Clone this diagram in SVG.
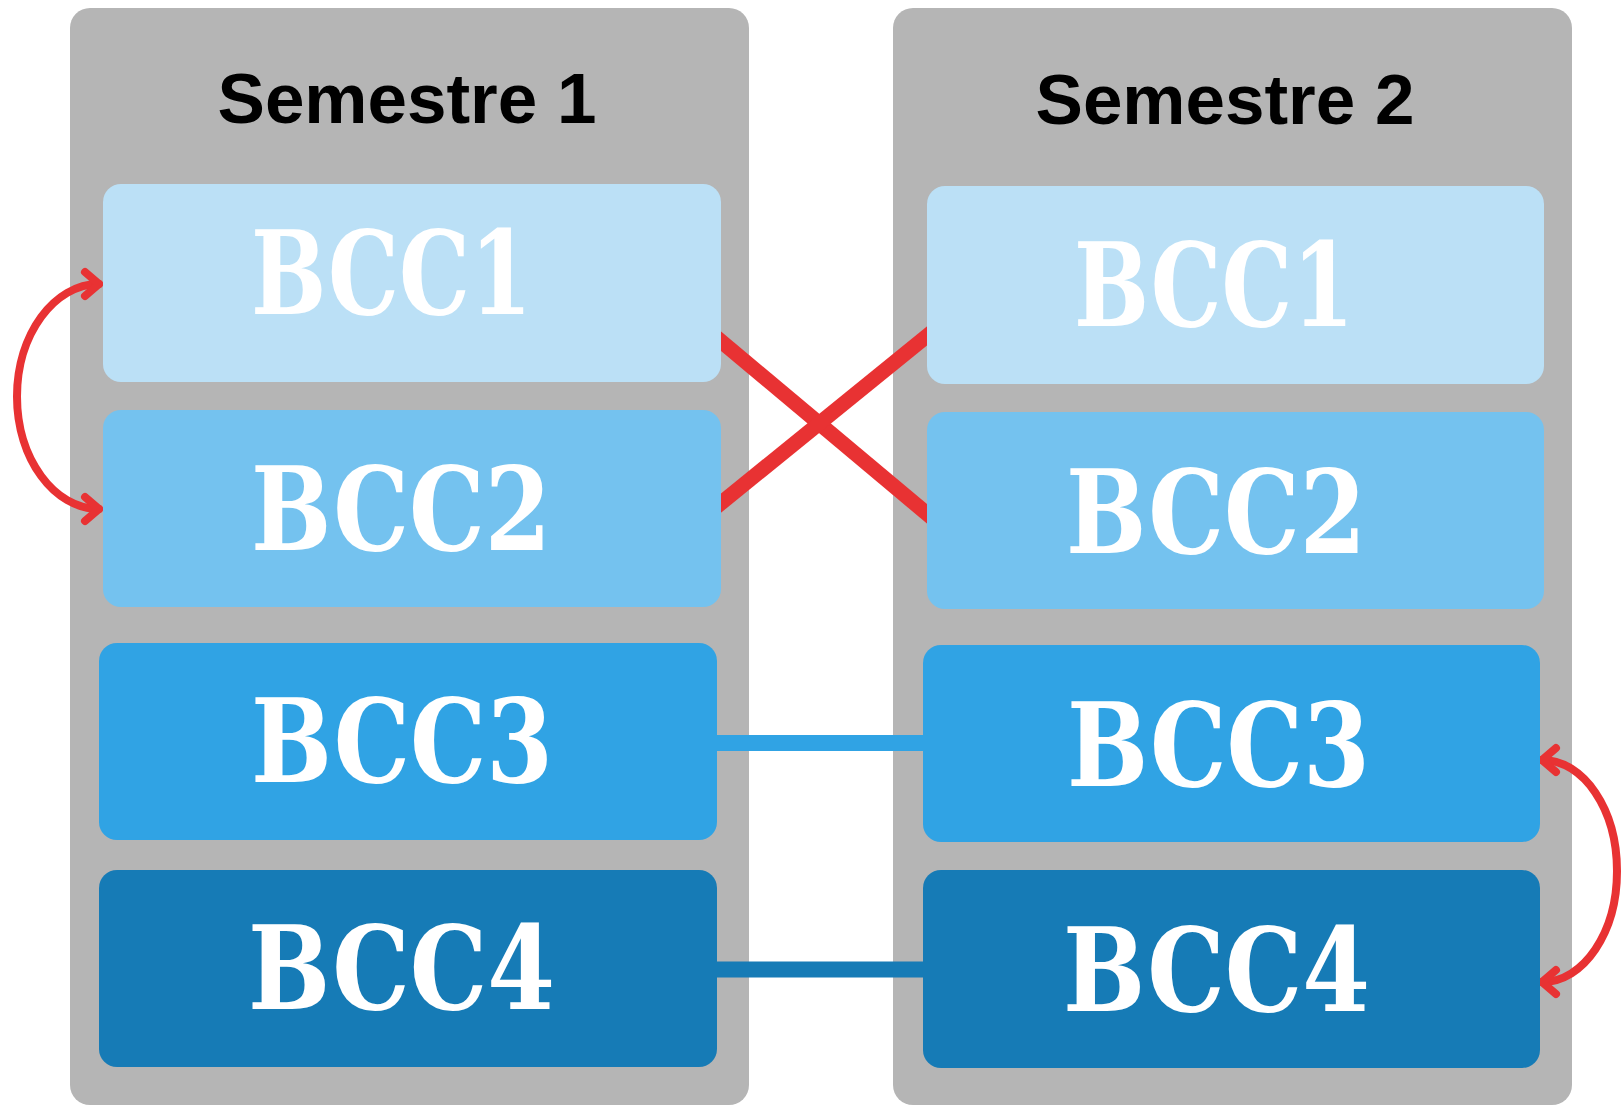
<svg xmlns="http://www.w3.org/2000/svg" width="1621" height="1107" viewBox="0 0 1621 1107">
<style>
.col{fill:#B5B5B5}
.title{font-family:"Liberation Sans",Arial,sans-serif;font-weight:bold;font-size:71px;fill:#000;text-anchor:middle}
.lbl{font-family:"DejaVu Serif",serif;font-weight:bold;font-size:116px;fill:#FFFFFF}
.b1{fill:#BBE0F6}.b2{fill:#74C2EF}.b3{fill:#30A3E4}.b4{fill:#167BB6}
.xline{stroke:#E83233;stroke-width:15;fill:none}
.arc{stroke:#E83233;stroke-width:8;fill:none;stroke-linecap:round;marker-start:url(#chev);marker-end:url(#chev)}
</style>
<defs>
<marker id="chev" markerUnits="userSpaceOnUse" viewBox="-24 -24 30 48" refX="0" refY="0" markerWidth="30" markerHeight="48" orient="auto-start-reverse" overflow="visible">
<path d="M -14 -12 L 0 0 L -14 12" fill="none" stroke="#E83233" stroke-width="8" stroke-linecap="round" stroke-linejoin="round"/>
</marker>
</defs>
<g id="semestre1">
<rect class="col" x="70" y="8" width="679" height="1097" rx="20"/>
<text class="title" x="407" y="123">Semestre 1</text>
</g>
<g id="semestre2">
<rect class="col" x="893" y="8" width="679" height="1097" rx="20"/>
<text class="title" x="1225" y="124">Semestre 2</text>
</g>
<g id="connectors">
<line class="xline" x1="710" y1="332" x2="938" y2="523"/>
<line class="xline" x1="710" y1="512" x2="938" y2="327"/>
<line x1="710" y1="743" x2="930" y2="743" stroke="#30A3E4" stroke-width="16"/>
<line x1="710" y1="969.5" x2="930" y2="969.5" stroke="#167BB6" stroke-width="16"/>
<path class="arc" d="M 99 284 C 54 284 17 334.5 17 396.5 C 17 458.5 54 509 99 509"/>
<path class="arc" d="M 1542 760 C 1584 760 1617 809.7 1617 871 C 1617 932.3 1584 982 1542 982"/>
</g>
<g id="s1-bcc1"><rect class="b1" x="103" y="184" width="618" height="198" rx="18"/><text class="lbl" x="251" y="314" textLength="281" lengthAdjust="spacingAndGlyphs">BCC1</text></g>
<g id="s1-bcc2"><rect class="b2" x="103" y="410" width="618" height="197" rx="18"/><text class="lbl" x="251" y="550" textLength="300" lengthAdjust="spacingAndGlyphs">BCC2</text></g>
<g id="s1-bcc3"><rect class="b3" x="99" y="643" width="618" height="197" rx="18"/><text class="lbl" x="251" y="782" textLength="302" lengthAdjust="spacingAndGlyphs">BCC3</text></g>
<g id="s1-bcc4"><rect class="b4" x="99" y="870" width="618" height="197" rx="18"/><text class="lbl" x="248" y="1009" textLength="307" lengthAdjust="spacingAndGlyphs">BCC4</text></g>
<g id="s2-bcc1"><rect class="b1" x="927" y="186" width="617" height="198" rx="18"/><text class="lbl" x="1074" y="326" textLength="280" lengthAdjust="spacingAndGlyphs">BCC1</text></g>
<g id="s2-bcc2"><rect class="b2" x="927" y="412" width="617" height="197" rx="18"/><text class="lbl" x="1066" y="553" textLength="300" lengthAdjust="spacingAndGlyphs">BCC2</text></g>
<g id="s2-bcc3"><rect class="b3" x="923" y="645" width="617" height="197" rx="18"/><text class="lbl" x="1067" y="786" textLength="303" lengthAdjust="spacingAndGlyphs">BCC3</text></g>
<g id="s2-bcc4"><rect class="b4" x="923" y="870" width="617" height="198" rx="18"/><text class="lbl" x="1063" y="1011" textLength="307" lengthAdjust="spacingAndGlyphs">BCC4</text></g>
</svg>
